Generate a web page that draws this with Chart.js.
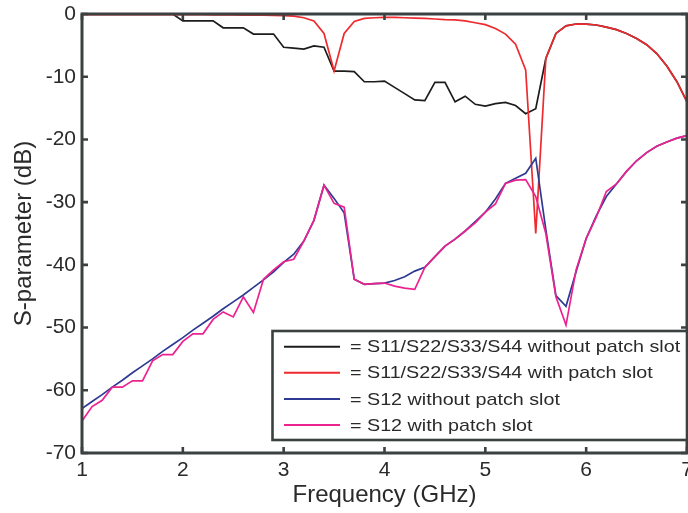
<!DOCTYPE html>
<html>
<head>
<meta charset="utf-8">
<script src="https://cdn.jsdelivr.net/npm/chart.js@4/dist/chart.umd.min.js"></script>
<style>
  html, body { margin: 0; padding: 0; background: #ffffff; }
  #wrap { width: 688px; height: 513px; }
</style>
</head>
<body>
<div id="wrap"><canvas id="c" width="688" height="513"></canvas></div>
<script>
// Frequency sweep, GHz
const freqGHz = [
  1.0, 1.1, 1.2, 1.3, 1.4, 1.5, 1.6, 1.7, 1.8, 1.9,
  2.0, 2.1, 2.2, 2.3, 2.4, 2.5, 2.6, 2.7, 2.8, 2.9,
  3.0, 3.1, 3.2, 3.3, 3.4, 3.5, 3.6, 3.7, 3.8, 3.9,
  4.0, 4.1, 4.2, 4.3, 4.4, 4.5, 4.6, 4.7, 4.8, 4.9,
  5.0, 5.1, 5.2, 5.3, 5.4, 5.5, 5.6, 5.7, 5.8, 5.9,
  6.0, 6.1, 6.2, 6.3, 6.4, 6.5, 6.6, 6.7, 6.8, 6.9,
  7.0
];

// Reflection, no patch slot (dB)
const s11NoSlot = [
  0, 0, 0, 0, 0, 0, 0, 0, 0, 0,
  -1.1, -1.1, -1.1, -1.1, -2.2, -2.2, -2.2, -3.2, -3.2, -3.2,
  -5.3, -5.45, -5.6, -5.1, -5.3, -9.1, -9.1, -9.2, -10.8, -10.8,
  -10.7, -11.7, -12.7, -13.7, -13.8, -10.9, -10.9, -14.0, -13.1, -14.4,
  -14.7, -14.3, -14.1, -14.6, -15.9, -15.1, -7.1, -3.1, -1.9, -1.6,
  -1.6, -1.75, -2.1, -2.5, -3.1, -3.9, -4.9, -6.3, -8.3, -10.8,
  -14.0
];

// Reflection, with patch slot (dB)
const s11Slot = [
  -0.1, -0.1, -0.1, -0.1, -0.1, -0.1, -0.1, -0.1, -0.1, -0.1,
  -0.1, -0.12, -0.12, -0.14, -0.15, -0.16, -0.18, -0.2, -0.2, -0.22,
  -0.25, -0.35, -0.6, -1.1, -3.1, -9.1, -3.1, -1.2, -0.7, -0.6,
  -0.55, -0.55, -0.6, -0.65, -0.7, -0.8, -0.9, -0.95, -1.1, -1.4,
  -1.7, -2.3, -3.2, -4.8, -8.9, -35.0, -7.1, -3.1, -1.9, -1.6,
  -1.6, -1.75, -2.1, -2.5, -3.1, -3.9, -4.9, -6.3, -8.3, -10.8,
  -14.0
];

// Port coupling, no patch slot (dB)
const s12NoSlot = [
  -62.9, -61.8, -60.7, -59.5, -58.4, -57.2, -56.1, -55.0, -53.8, -52.7,
  -51.6, -50.4, -49.3, -48.2, -47.0, -45.9, -44.8, -43.6, -42.4, -41.1,
  -39.6, -38.3, -36.2, -32.9, -27.3, -29.4, -31.7, -42.3, -43.1, -43.0,
  -42.9, -42.5, -41.9, -41.0, -40.4, -38.7, -37.0, -35.9, -34.6, -33.1,
  -31.6, -29.5, -27.0, -26.2, -25.4, -23.0, -34.4, -44.9, -46.6, -41.1,
  -35.8, -32.2, -29.1, -27.1, -25.1, -23.4, -22.1, -21.1, -20.4, -19.8,
  -19.4
];

// Port coupling, with patch slot (dB)
const s12Slot = [
  -64.9, -62.6, -61.6, -59.5, -59.5, -58.5, -58.5, -55.3, -54.3, -54.3,
  -52.2, -51.0, -51.0, -48.7, -47.5, -48.3, -45.1, -47.6, -42.3, -40.8,
  -39.5, -39.1, -36.2, -32.9, -27.3, -30.2, -30.8, -42.3, -43.1, -43.0,
  -42.9, -43.4, -43.7, -43.9, -40.4, -38.7, -37.0, -35.9, -34.6, -33.3,
  -31.6, -30.3, -27.0, -26.5, -26.4, -29.1, -35.0, -45.1, -49.6, -40.8,
  -35.8, -32.4, -28.3, -27.1, -25.1, -23.4, -22.1, -21.1, -20.4, -19.8,
  -19.4
];

const seriesNames = [
  '= S11/S22/S33/S44 without patch slot',
  '= S11/S22/S33/S44 with patch slot',
  '= S12 without patch slot',
  '= S12 with patch slot'
];
const seriesColors = ['#1c1c1c', '#ee2a2e', '#2e3a92', '#ec2290'];

const xTicks = [1, 2, 3, 4, 5, 6, 7];
const yTicks = [0, -10, -20, -30, -40, -50, -60, -70];

const FONT = '"Liberation Sans", Arial, Helvetica, sans-serif';
const FRAME = '#3b4040';
const TEXT = '#2a2a2a';

function pts(ys) {
  return freqGHz.map((f, i) => ({ x: f, y: ys[i] }));
}

// Box frame with inward tick marks on all four sides
const framePlugin = {
  id: 'frame',
  afterDatasetsDraw(chart) {
    const { ctx, chartArea: a, scales } = chart;
    const len = 6;
    ctx.save();
    ctx.strokeStyle = FRAME;
    ctx.lineWidth = 2.6;
    ctx.beginPath();
    for (const v of xTicks) {
      const px = scales.x.getPixelForValue(v);
      ctx.moveTo(px, a.bottom); ctx.lineTo(px, a.bottom - len);
      ctx.moveTo(px, a.top); ctx.lineTo(px, a.top + len);
    }
    for (const v of yTicks) {
      const py = scales.y.getPixelForValue(v);
      ctx.moveTo(a.left, py); ctx.lineTo(a.left + len, py);
      ctx.moveTo(a.right, py); ctx.lineTo(a.right - len, py);
    }
    ctx.stroke();
    ctx.lineWidth = 3;
    ctx.strokeRect(a.left, a.top, a.right - a.left, a.bottom - a.top);
    ctx.restore();
  }
};

// Boxed legend in the lower right of the plot
const legendPlugin = {
  id: 'boxLegend',
  afterDraw(chart) {
    const { ctx, chartArea: a } = chart;
    const left = 272.5, top = 331, bottom = 440;
    const right = a.right;
    ctx.save();
    ctx.fillStyle = '#ffffff';
    ctx.fillRect(left, top, right - left, bottom - top);
    ctx.strokeStyle = FRAME;
    ctx.lineWidth = 2.6;
    ctx.strokeRect(left, top, right - left, bottom - top);
    chart.data.datasets.forEach((ds, i) => {
      const y = 346.7 + i * 26.1;
      ctx.strokeStyle = ds.borderColor;
      ctx.lineWidth = 2;
      ctx.beginPath();
      ctx.moveTo(284, y); ctx.lineTo(340, y);
      ctx.stroke();
      // slightly widened lettering
      ctx.save();
      ctx.translate(350, y + 1);
      ctx.scale(1.16, 1);
      ctx.font = '17px ' + FONT;
      ctx.textBaseline = 'middle';
      ctx.textAlign = 'left';
      ctx.fillStyle = TEXT;
      ctx.fillText(ds.label, 0, 0);
      ctx.restore();
    });
    ctx.restore();
  }
};

const seriesData = [s11NoSlot, s11Slot, s12NoSlot, s12Slot];
const drawOrder = [4, 3, 2, 1];

new Chart(document.getElementById('c'), {
  type: 'line',
  data: {
    datasets: seriesData.map((ys, i) => ({
      label: seriesNames[i],
      data: pts(ys),
      borderColor: seriesColors[i],
      backgroundColor: seriesColors[i],
      borderWidth: 1.7,
      pointRadius: 0,
      tension: 0,
      fill: false,
      order: drawOrder[i]
    }))
  },
  options: {
    responsive: false,
    animation: false,
    devicePixelRatio: 1,
    layout: { padding: { top: 14, right: 1, left: 0, bottom: 0 }, autoPadding: false },
    plugins: { legend: { display: false }, tooltip: { enabled: false } },
    scales: {
      x: {
        type: 'linear',
        min: 1, max: 7,
        border: { display: false },
        grid: { display: false, drawTicks: false },
        afterBuildTicks: (s) => { s.ticks = xTicks.map(v => ({ value: v })); },
        afterFit: (s) => { s.height = 60; s.paddingLeft = 0; s.paddingRight = 0; },
        ticks: {
          padding: 5,
          color: TEXT,
          font: { family: FONT, size: 21 },
          maxRotation: 0,
          autoSkip: false,
          callback: (v) => String(v)
        },
        title: {
          display: true,
          text: 'Frequency (GHz)',
          color: TEXT,
          font: { family: FONT, size: 24 },
          padding: { top: 0, bottom: 3 }
        }
      },
      y: {
        type: 'linear',
        min: -70, max: 0,
        border: { display: false },
        grid: { display: false, drawTicks: false },
        afterBuildTicks: (s) => { s.ticks = yTicks.map(v => ({ value: v })); },
        afterFit: (s) => { s.width = 82; s.paddingTop = 0; s.paddingBottom = 0; },
        ticks: {
          padding: 6,
          color: TEXT,
          font: { family: FONT, size: 21 },
          autoSkip: false,
          callback: (v) => String(v)
        },
        title: {
          display: true,
          text: 'S-parameter (dB)',
          color: TEXT,
          font: { family: FONT, size: 24 },
          padding: { top: 10, bottom: 0 }
        }
      }
    }
  },
  plugins: [framePlugin, legendPlugin]
});
</script>
</body>
</html>
